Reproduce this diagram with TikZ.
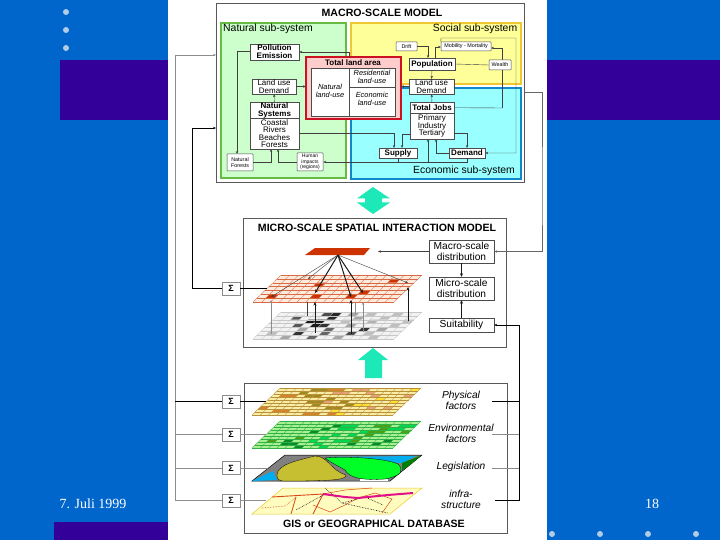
\documentclass[tikz,border=0pt]{standalone}
\usepackage{fontspec}
\setmainfont{Liberation Sans}
\newfontfamily\datefont{Liberation Serif}
\usetikzlibrary{arrows.meta}
\definecolor{slideblue}{HTML}{0066CC}
\definecolor{slidepurple}{HTML}{330099}
\definecolor{slidedot}{HTML}{B3CCE6}
\definecolor{arrowcyan}{HTML}{1CE8B8}
\definecolor{natgreen}{HTML}{CCFFCC}
\definecolor{natedge}{HTML}{66BB44}
\definecolor{socyellow}{HTML}{FFFF99}
\definecolor{socedge}{HTML}{EEC833}
\definecolor{ecocyan}{HTML}{99FFFF}
\definecolor{ecoedge}{HTML}{1188CC}
\definecolor{landpink}{HTML}{FFCCCC}
\definecolor{landred}{HTML}{CC1122}
\definecolor{plotred}{HTML}{CC3300}
\definecolor{pground}{HTML}{FAEBA5}
\definecolor{pline}{HTML}{B8923A}
\definecolor{porange}{HTML}{D9802B}
\definecolor{polive}{HTML}{A08A1E}
\definecolor{ppink}{HTML}{E8A07A}
\definecolor{pyellow}{HTML}{FFE033}
\definecolor{eground}{HTML}{A8F090}
\definecolor{eline}{HTML}{2FB048}
\definecolor{edark}{HTML}{0A8A28}
\definecolor{emid}{HTML}{00D850}
\definecolor{eolive}{HTML}{4FA010}
\definecolor{rground}{HTML}{FDEBDD}
\definecolor{rline}{HTML}{D96A45}
\definecolor{roadred}{HTML}{D9481C}
\definecolor{roadpink}{HTML}{E0108A}
\tikzset{
  modelbox/.style={draw=black!65,line width=.9pt,fill=white},
  cbox/.style={draw=black!70,fill=white,line width=.4pt,inner sep=0pt,align=center,
    font=\fontsize{8}{7.5}\selectfont},
  boldbox/.style={cbox,font=\bfseries\fontsize{8}{7.8}\selectfont},
  minibox/.style={cbox,line width=.5pt,rounded corners=.5pt,font=\fontsize{5.4}{5.8}\selectfont},
  midbox/.style={cbox,font=\fontsize{10.2}{10.8}\selectfont},
  sigbox/.style={draw=black!45,fill=white,inner sep=0pt,minimum width=18,minimum height=13,
    font=\bfseries\fontsize{9}{9}\selectfont},
  title/.style={inner sep=0pt,font=\bfseries\fontsize{10.6}{11}\selectfont},
  subsys/.style={inner sep=0pt,font=\fontsize{10.4}{11}\selectfont},
  layerlabel/.style={inner sep=0pt,align=center,font=\itshape\fontsize{10.2}{10.8}\selectfont},
  landlabel/.style={inner sep=0pt,align=center,font=\itshape\fontsize{7.4}{7.8}\selectfont},
  conn/.style={draw=black!75,line width=.4pt,-{Stealth[length=3pt,width=2.4pt]}},
  wire/.style={draw=black!75,line width=.4pt},
  greywire/.style={draw=black!45,line width=.5pt},
  fatwire/.style={draw=black!90,line width=1pt,-{Stealth[length=3.5pt,width=3pt]}},
  bigarrow/.style={fill=arrowcyan,draw=none},
  slidetext/.style={inner sep=0pt,text=white,font=\datefont\fontsize{14}{14}\selectfont}
}
% one tilted grid: left corner x, y, columns, rows, ground, lines, coloured cells
\newcommand{\gridlayer}[7]{
  \begin{scope}[shift={(#1,#2)},x={(141pt/#3,0pt)},y={(28pt/#4,27pt/#4)}]
    \fill[#5] (0,0)--(#3,0)--(#3,#4)--(0,#4)--cycle;
    \foreach \ci/\cj/\cc in {#7}
      \fill[\cc] (\ci,\cj)--++(1,0)--++(0,1)--++(-1,0)--cycle;
    \foreach \ci in {0,...,#3} \draw[#6,line width=.3pt] (\ci,0)--(\ci,#4);
    \foreach \cj in {0,...,#4} \draw[#6,line width=.3pt] (0,\cj)--(#3,\cj);
  \end{scope}
}
\begin{document}
\begin{tikzpicture}[x=1pt,y=-1pt]
\useasboundingbox (0,0) rectangle (720,540);
% slide
\fill[slideblue] (0,0) rectangle (720,540);
\fill[slidepurple] (60,60) rectangle (720,120);
\fill[slidepurple] (54,522) rectangle (168,540);
\foreach \dy in {12,30,48} \fill[slidedot] (66,\dy) circle (3);
\foreach \dx in {552,600,648,696} \fill[slidedot] (\dx,534) circle (3);
\fill[white] (168,0) rectangle (547,540);
\node[slidetext] (datelabel) at (93,504) {7. Juli 1999};
\node[slidetext] (pagelabel) at (652,504) {18};

% macro-scale model
\node[modelbox,inner sep=0pt,minimum width=308,minimum height=179] (macro) at (370,92.5) {};
\node[title] (macrotitle) at (382,12.5) {MACRO-SCALE MODEL};
\fill[natgreen,draw=natedge,line width=1.2pt] (221,23) rectangle (346,178);
\fill[socyellow,draw=socedge,line width=1.2pt] (351,23) rectangle (521,84);
\fill[ecocyan,draw=ecoedge,line width=1.2pt] (351,88) rectangle (521,179);
\node[subsys] (natlabel) at (268,28.5) {Natural sub-system};
\node[subsys] (soclabel) at (475,28.5) {Social sub-system};
\node[subsys] (ecolabel) at (464,171) {Economic sub-system};

\fill[landpink,draw=landred,line width=1.2pt] (306,57) rectangle (401,119);
\node[title,font=\bfseries\fontsize{8}{8}\selectfont] (landtitle) at (353,62.5) {Total land area};
\node[draw=black!70,fill=white,inner sep=0pt,minimum width=84,minimum height=48] (landbox) at (353,92) {};
\coordinate (landcut) at (349,68);
\coordinate (landcutb) at (349,116);
\draw[draw=black!70] (landcut) -- (landcutb);
\coordinate (landsplit) at (349,87);
\draw[draw=black!70] (landsplit) -- (landsplit -| landbox.east);
\node[landlabel] (natland) at (330,90.5) {Natural\\land-use};
\node[landlabel] (resland) at (372,77) {Residential\\land-use};
\node[landlabel] (ecoland) at (372,99) {Economic\\land-use};

\coordinate (busa) at (502,108);
\coordinate (busb) at (491,48);
\coordinate (busc) at (502,48);
\draw[conn] (busa) -- (busc) -- (busb);
\node[boldbox,minimum width=49,minimum height=16] (poll) at (274.5,52) {Pollution\\Emission};
\node[cbox,minimum width=44,minimum height=15] (luleft) at (274,86.5) {Land use\\Demand};
\node[boldbox,minimum width=49,minimum height=16.5] (natsys) at (274.5,110.5) {Natural\\Systems};
\node[cbox,minimum width=49,minimum height=31] (natlist) at (274.5,133.5) {Coastal\\Rivers\\Beaches\\Forests};
\node[minibox,minimum width=26,minimum height=17] (forests) at (240,162.5) {Natural\\Forests};
\node[minibox,font=\fontsize{5}{5.4}\selectfont,minimum width=26,minimum height=18] (impacts) at (310,162) {Human\\impacts\\(regions)};
\node[minibox,minimum width=21,minimum height=9] (drift) at (406.5,46.5) {Drift};
\node[minibox,minimum width=50,minimum height=9] (mobil) at (466,46.5) {Mobility - Mortality};
\node[boldbox,minimum width=46,minimum height=12] (pop) at (432,64) {Population};
\node[minibox,minimum width=22,minimum height=10] (wealth) at (500,65) {Wealth};
\node[cbox,minimum width=45,minimum height=15] (luright) at (431.5,86.5) {Land use\\Demand};
\node[boldbox,minimum width=44,minimum height=10.5] (jobs) at (432,107.7) {Total Jobs};
\node[cbox,minimum width=44,minimum height=26] (joblist) at (432,126) {Primary\\Industry\\Tertiary};
\node[boldbox,minimum width=38,minimum height=10] (supply) at (398,153) {Supply};
\node[boldbox,minimum width=36,minimum height=10] (demand) at (467,153) {Demand};

\coordinate (landtop) at (349,57);
\coordinate (landup) at (349,52);
\draw[conn] (landtop) -- (landup) -- (poll.east |- landup);
\coordinate (landwest) at (306,86.5);
\coordinate (landeast) at (401,86.5);
\draw[conn] (luleft.east) -- (landwest);
\draw[conn] (luright.west) -- (landeast);
\draw[conn] (natsys) -- (luleft);
\draw[conn] (pop) -- (luright);
\draw[conn] (jobs) -- (luright);
\coordinate (driftin) at (428,58);
\draw[conn] (drift.east) -| (driftin);
\coordinate (popout) at (435,58);
\coordinate (mobin) at (441,47);
\draw[conn] (popout) |- (mobin);
\draw[wire] (pop.east) -- (wealth.west);
\draw[wire] (jobs.east) -- (busa);
\coordinate (fara) at (441,38);
\coordinate (farb) at (516,38);
\draw[conn] (mobil.north west) -- (fara) -- (farb) |- (demand.east);
\coordinate (natout) at (299,133);
\coordinate (supin) at (394,148);
\draw[conn] (natout) -| (supin);
\coordinate (supup) at (402,148);
\coordinate (jobin) at (410,134);
\draw[conn] (jobin) -| (supup);
\coordinate (jobina) at (436,139);
\draw[conn] (demand.west) -| (jobina);
\coordinate (jobout) at (454,133);
\coordinate (demin) at (467,148);
\draw[conn] (jobout) -| (demin);
\coordinate (botline) at (467,162);
\coordinate (botup) at (428,139);
\draw[conn] (demand.south) -- (botline) -- (impacts.east |- botline);
\draw[wire] (supply.south) -- (supply.south |- botline);
\draw[conn] (botup |- botline) -- (botup);
\coordinate (nsa) at (271,149);
\coordinate (nsb) at (278,149);
\draw[conn] (forests.east |- impacts) -| (nsa);
\draw[conn] (impacts.west) -| (nsb);
\coordinate (pollout) at (250,51);
\coordinate (forin) at (237,154);
\draw[conn] (pollout) -| (forin);

% cyan arrows
\fill[bigarrow] (373,187)--(390,198.5)--(382,198.5)--(382,202.5)--(390,202.5)--(373,214)--(357,202.5)--(365,202.5)--(365,198.5)--(357,198.5)--cycle;
\fill[bigarrow] (373,348)--(388,360)--(382,360)--(382,378)--(365,378)--(365,360)--(358,360)--cycle;

% micro-scale model
\node[modelbox,inner sep=0pt,minimum width=263,minimum height=129] (micro) at (374.5,282.5) {};
\node[title] (microtitle) at (377,227.5) {MICRO-SCALE SPATIAL INTERACTION MODEL};
\node[midbox,minimum width=65,minimum height=23] (macdist) at (461.5,251.5) {Macro-scale\\distribution};
\node[midbox,minimum width=65,minimum height=23] (micdist) at (461.5,288.5) {Micro-scale\\distribution};
\node[midbox,minimum width=65,minimum height=14] (suit) at (461.5,325) {Suitability};
\coordinate (plottarget) at (378,251.5);
\draw[conn] (macdist.west) -- (plottarget);
\draw[fatwire] (macdist) -- (micdist);
\draw[fatwire] (suit) -- (micdist);
\gridlayer{253}{339}{16}{7}{black!5}{black!22}{
  3/0/black!35,6/0/black!60,9/0/black!35,13/0/black!25,1/1/black!25,4/1/black!80,7/1/black!60,
  10/1/black!70,12/1/black!25,4/2/black!35,7/2/black!60,11/2/black!80,13/2/black!35,
  3/3/black!65,5/3/black!90,6/3/black!80,9/3/black!35,14/3/black!25,4/4/black!90,5/4/black!90,
  8/4/black!25,11/4/black!30,15/4/black!25,2/5/black!65,6/5/black!85,9/5/black!35,12/5/black!25,
  5/6/black!70,6/6/black!85,8/6/black!35,10/6/black!25,13/6/black!25}
\gridlayer{253}{302}{16}{7}{rground}{rline}{
  1/1/plotred,6/1/plotred,10/1/plotred,11/2/plotred,5/4/plotred,13/5/plotred}
\fill[plotred] (305,255)--(315,248)--(370,248)--(364,255)--cycle;
\coordinate (apex) at (338,255);
\coordinate (cella) at (271,297);
\coordinate (cellb) at (308,279);
\coordinate (cellc) at (315,293);
\coordinate (celld) at (351,297);
\coordinate (celle) at (363,293);
\coordinate (cellf) at (408,283);
\draw[conn] (apex) -- (cella);
\draw[conn] (apex) -- (cellb);
\draw[fatwire] (apex) -- (cellc);
\draw[fatwire] (apex) -- (celld);
\draw[fatwire] (apex) -- (celle);
\draw[conn] (apex) -- (cellf);
\coordinate (basea) at (271,334);
\coordinate (topa) at (271,300);
\coordinate (baseb) at (307,316);
\coordinate (topb) at (307,302);
\coordinate (basec) at (315,333);
\coordinate (topc) at (315,302);
\coordinate (based) at (351,334);
\coordinate (topd) at (351,300);
\coordinate (basee) at (355,314);
\coordinate (tope) at (355,302);
\coordinate (basef) at (363,332);
\coordinate (topf) at (363,302);
\coordinate (baseg) at (408,321);
\coordinate (topg) at (408,287);
\draw[conn,draw=black!45] (basea) -- (topa);
\draw[wire,line width=.8pt] (baseb) -- (topb);
\draw[fatwire] (basec) -- (topc);
\draw[fatwire] (based) -- (topd);
\draw[wire,draw=black!45] (basee) -- (tope);
\draw[conn,draw=black!45] (basef) -- (topf);
\draw[fatwire] (baseg) -- (topg);

% database
\node[modelbox,inner sep=0pt,minimum width=263,minimum height=150] (gis) at (375.5,458) {};
\node[title] (gistitle) at (374,523.5) {GIS or GEOGRAPHICAL DATABASE};
\gridlayer{252}{415}{17}{9}{pground}{pline}{
  1/6/porange,2/6/porange,2/1/porange,3/1/porange,6/0/porange,7/0/porange,9/0/porange,6/8/porange,7/8/porange,
  4/8/polive,5/8/polive,3/7/polive,4/6/polive,5/6/polive,5/4/polive,6/4/polive,6/3/polive,8/2/polive,9/2/polive,9/4/polive,10/3/polive,7/5/polive,
  16/8/pyellow,11/3/pyellow,12/3/pyellow,9/1/pyellow,10/0/pyellow,13/5/pyellow,15/4/pyellow,
  9/8/ppink,10/8/ppink,7/7/ppink,8/7/ppink,13/2/ppink,15/2/ppink,16/6/ppink,7/4/ppink,12/6/ppink,0/2/porange,11/7/ppink}
\gridlayer{252}{448}{17}{9}{eground}{eline}{
  3/1/edark,4/1/edark,5/0/edark,1/2/eolive,3/2/edark,6/6/edark,7/7/edark,5/5/edark,4/3/eolive,11/1/edark,14/1/edark,16/5/eolive,
  6/2/emid,7/1/emid,7/3/emid,8/0/emid,8/6/emid,9/6/emid,9/7/emid,8/7/emid,8/4/emid,10/4/emid,15/7/emid,14/6/emid,15/6/emid,16/7/emid,11/5/emid,
  12/7/eolive,13/7/eolive,13/6/eolive,12/5/eolive,13/5/eolive,12/4/eolive,11/3/eolive,11/2/eolive,9/2/emid,10/2/emid,15/2/edark}
% legislation map
\fill[black!50,draw=black,line width=.5pt] (285,455)--(422,455)--(390,481)--(252,481)--cycle;
\fill[cyan] (328,457)--(416,456)--(402,463)--(370,461)--cycle;
\fill[cyan] (252,481)--(273,471)--(277,480)--cycle;
\fill[green!50!black] (402,463)--(421,455.5)--(410,465)--(402,470)--cycle;
\fill[white] (360,479) rectangle (388,480.5);
\filldraw[fill=yellow!75!black,draw=black,line width=.3pt] (277,475) .. controls (277,464) and (300,460) .. (315,456)
  .. controls (328,456) and (330,470) .. (346,475) .. controls (347,480) and (330,481) .. (285,481)
  .. controls (278,481) and (277,479) .. (277,475) -- cycle;
\filldraw[fill=green!85!cyan,draw=black,line width=.3pt] (325,458) .. controls (345,456) and (385,458) .. (398,464)
  .. controls (404,470) and (402,476) .. (385,479) .. controls (370,480) and (350,480) .. (345,470)
  .. controls (338,466) and (330,462) .. (325,458) -- cycle;
% infrastructure map
\fill[yellow!25,draw=yellow!60!brown,line width=.5pt] (283,488)--(422,488)--(390,514)--(252,514)--cycle;
\draw[roadred,line width=.5pt] (323,494)--(345,490)--(372,488);
\draw[roadred,line width=.5pt] (358,498)--(375,493)--(392,499)--(382,513);
\draw[roadred,line width=.5pt] (313,505)--(330,512)--(345,505)--(358,498);
\draw[roadred,line width=.9pt] (272,497)--(323,494)--(313,514);
\draw[roadred,line width=.8pt] (296,497)--(291,514);
\draw[roadred,densely dotted,line width=.6pt] (262,508)--(285,506)--(296,497);
\draw[black,densely dotted,line width=.6pt] (325,488)--(342,503)--(388,513);
\draw[black,densely dotted,line width=.6pt] (325,494)--(296,510);
\draw[black,densely dotted,line width=.6pt] (342,503)--(365,497)--(383,505);
\draw[roadpink,line width=2pt] (323,494)--(345,497)--(358,498)--(388,495)--(413,493);

\node[layerlabel] (physl) at (461,400) {Physical\\factors};
\node[layerlabel] (envl) at (461,433) {Environmental\\factors};
\node[layerlabel] (legl) at (461,467) {Legislation};
\node[layerlabel] (infl) at (461,499.5) {infra-\\structure};

% outer wires
\node[sigbox] (sigm) at (231,288.5) {Σ};
\node[sigbox] (siga) at (231,401.5) {Σ};
\node[sigbox] (sigb) at (231,434.5) {Σ};
\node[sigbox] (sigc) at (231,468) {Σ};
\node[sigbox] (sigd) at (231,500.5) {Σ};
\coordinate (lbus) at (175,55);
\coordinate (lbusin) at (216,55);
\coordinate (lsec) at (192,128);
\coordinate (lsecin) at (216,128);
\draw[conn,draw=black!45] (sigd.west) -| (lbus) -- (lbusin);
\draw[wire,draw=black] (siga.west) -- (siga.west -| lbus);
\draw[greywire] (sigb.west) -- (sigb.west -| lbus);
\draw[greywire] (sigc.west) -- (sigc.west -| lbus);
\draw[conn,draw=black] (sigm.west) -| (lsec) -- (lsecin);
\coordinate (grida) at (267,288.5);
\coordinate (layera) at (266,401.5);
\coordinate (layerb) at (266,434.5);
\coordinate (layerc) at (268,468);
\coordinate (layerd) at (266,500.5);
\draw[wire,draw=black] (sigm.east) -- (grida);
\draw[wire,draw=black] (siga.east) -- (layera);
\draw[greywire] (sigb.east) -- (layerb);
\draw[greywire] (sigc.east) -- (layerc);
\draw[greywire] (sigd.east) -- (layerd);
\coordinate (rjoin) at (542,200);
\draw[conn,draw=black!60] (macro.east) -| (rjoin) |- (macdist.east);
\coordinate (rbot) at (519,500);
\coordinate (rturn) at (519,325);
\coordinate (pfl) at (492,401);
\coordinate (efl) at (492,434);
\coordinate (lfl) at (492,468);
\coordinate (ifl) at (495,500);
\draw[conn,draw=black] (ifl) -- (rbot) -- (rturn) -- (suit.east);
\draw[wire,draw=black] (pfl) -- (pfl -| rbot);
\draw[greywire] (efl) -- (efl -| rbot);
\draw[greywire] (lfl) -- (lfl -| rbot);
\end{tikzpicture}
\end{document}
